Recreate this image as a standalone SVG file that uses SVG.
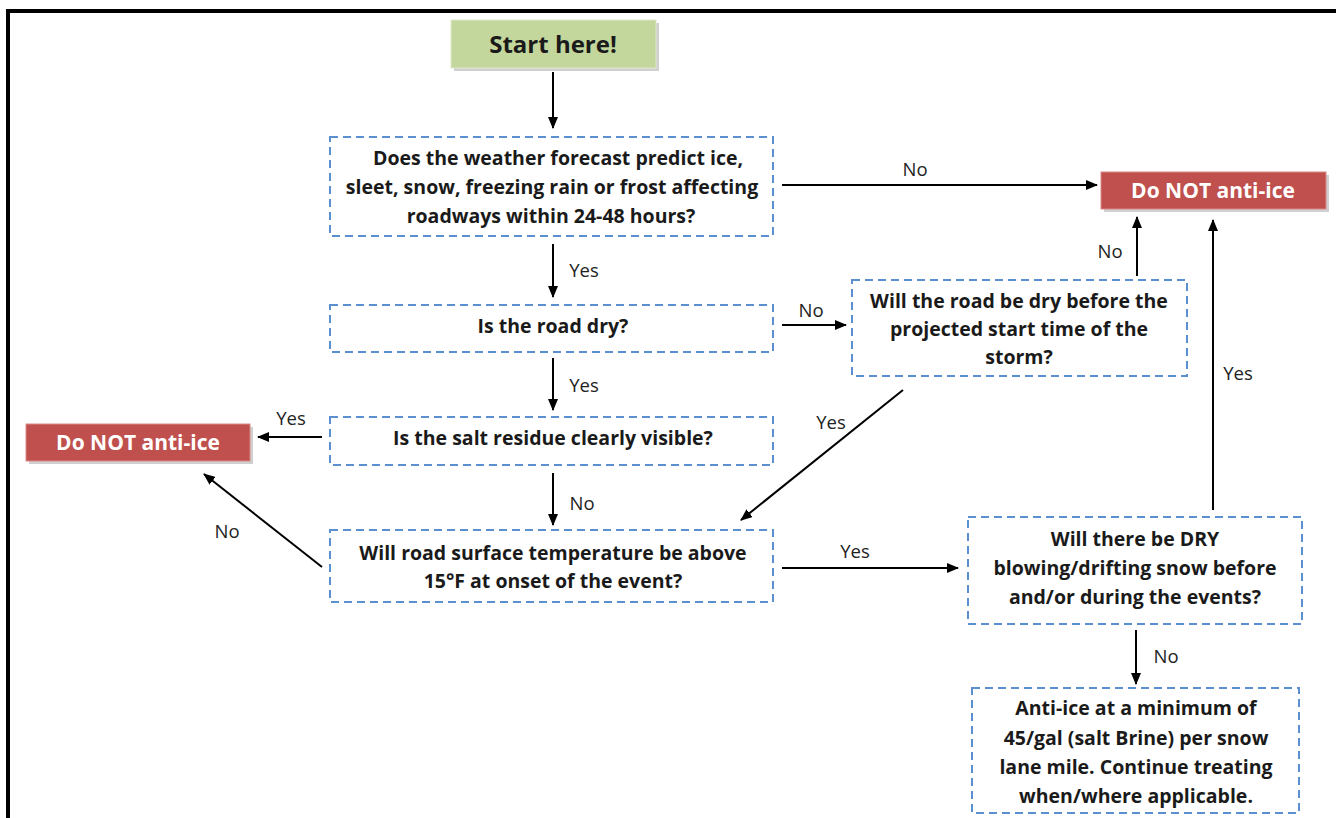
<svg xmlns="http://www.w3.org/2000/svg" width="1336" height="818" viewBox="0 0 1336 818">
<defs>
<marker id="ah" markerWidth="12" markerHeight="10" refX="11" refY="5" orient="auto" markerUnits="userSpaceOnUse">
<path d="M0,0 L12,5 L0,10 Z" fill="#000"/>
</marker>
</defs>
<style>
.q{fill:#fff;stroke:#5b8fd0;stroke-width:2;stroke-dasharray:8 5}
.t{font-family:"Open Sans",sans-serif;font-weight:bold;font-size:19.5px;fill:#1a1a1a;text-anchor:middle;dominant-baseline:central}
.r{fill:#c0504d;stroke:#d88a88;stroke-width:1}
.rt{font-family:"Open Sans",sans-serif;font-weight:bold;font-size:21px;fill:#fff;text-anchor:middle;dominant-baseline:central}
.sh{fill:#d0d0d0}
.c line{stroke:#000;stroke-width:2;marker-end:url(#ah)}
.l{font-family:"Open Sans",sans-serif;font-size:18.5px;fill:#222;text-anchor:middle;dominant-baseline:central}
</style>
<rect width="1336" height="818" fill="#fff"/>
<path d="M8,818 V11 H1336" fill="none" stroke="#000" stroke-width="4"/>

<g id="start">
<rect class="sh" x="454" y="23" width="205" height="48"/>
<rect x="451" y="20" width="205" height="48" fill="#c3d69b" stroke="#dfe9c9" stroke-width="1"/>
<text class="t" x="553" y="43" style="font-size:24px">Start here!</text>
</g>

<g id="q1">
<rect class="q" x="330" y="137" width="443" height="99"/>
<text class="t" x="558" y="157">Does the weather forecast predict ice,</text>
<text class="t" x="552" y="186">sleet, snow, freezing rain or frost affecting</text>
<text class="t" x="551" y="215">roadways within 24-48 hours?</text>
</g>

<g id="q2">
<rect class="q" x="330" y="305" width="443" height="47"/>
<text class="t" x="553" y="325">Is the road dry?</text>
</g>

<g id="q3">
<rect class="q" x="330" y="417" width="443" height="48"/>
<text class="t" x="553" y="437">Is the salt residue clearly visible?</text>
</g>

<g id="q4">
<rect class="q" x="330" y="530" width="443" height="72"/>
<text class="t" x="553" y="552">Will road surface temperature be above</text>
<text class="t" x="553" y="580">15°F at onset of the event?</text>
</g>

<g id="q5">
<rect class="q" x="852" y="280" width="335" height="96"/>
<text class="t" x="1019" y="300">Will the road be dry before the</text>
<text class="t" x="1019" y="328">projected start time of the</text>
<text class="t" x="1019" y="356">storm?</text>
</g>

<g id="q6">
<rect class="q" x="968" y="517" width="334" height="107"/>
<text class="t" x="1135" y="538">Will there be DRY</text>
<text class="t" x="1135" y="567">blowing/drifting snow before</text>
<text class="t" x="1135" y="596">and/or during the events?</text>
</g>

<g id="q7">
<rect class="q" x="972" y="688" width="327" height="125"/>
<text class="t" x="1136" y="707">Anti-ice at a minimum of</text>
<text class="t" x="1136" y="737">45/gal (salt Brine) per snow</text>
<text class="t" x="1136" y="766">lane mile. Continue treating</text>
<text class="t" x="1136" y="795">when/where applicable.</text>
</g>

<g id="noanti1">
<rect class="sh" x="1104" y="175" width="225" height="37"/>
<rect class="r" x="1101" y="172" width="225" height="37"/>
<text class="rt" x="1213" y="190">Do NOT anti-ice</text>
</g>

<g id="noanti2">
<rect class="sh" x="29" y="427" width="224" height="37"/>
<rect class="r" x="26" y="424" width="224" height="37"/>
<text class="rt" x="138" y="442">Do NOT anti-ice</text>
</g>

<g id="connectors" class="c">
<line x1="553" y1="72" x2="553" y2="128"/>
<line x1="782" y1="185" x2="1097" y2="185"/>
<line x1="553" y1="244" x2="553" y2="297"/>
<line x1="782" y1="325" x2="846" y2="325"/>
<line x1="1137" y1="276" x2="1137" y2="217"/>
<line x1="553" y1="358" x2="553" y2="410"/>
<line x1="322" y1="437" x2="258" y2="437"/>
<line x1="553" y1="473" x2="553" y2="525"/>
<line x1="322" y1="567" x2="204" y2="474"/>
<line x1="903" y1="390" x2="741" y2="520"/>
<line x1="782" y1="568" x2="958" y2="568"/>
<line x1="1213" y1="510" x2="1213" y2="220"/>
<line x1="1136" y1="630" x2="1136" y2="684"/>
</g>

<g id="labels">
<text class="l" x="915" y="168">No</text>
<text class="l" x="584" y="269">Yes</text>
<text class="l" x="811" y="309">No</text>
<text class="l" x="1110" y="250">No</text>
<text class="l" x="584" y="384">Yes</text>
<text class="l" x="291" y="417">Yes</text>
<text class="l" x="582" y="502">No</text>
<text class="l" x="227" y="530">No</text>
<text class="l" x="831" y="421">Yes</text>
<text class="l" x="855" y="550">Yes</text>
<text class="l" x="1238" y="372">Yes</text>
<text class="l" x="1166" y="655">No</text>
</g>
</svg>
